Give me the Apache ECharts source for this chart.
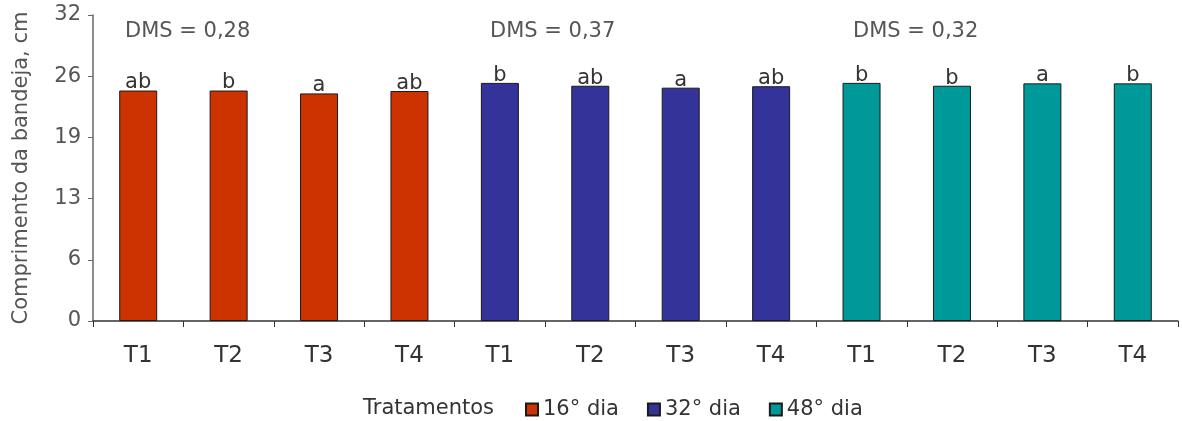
<!DOCTYPE html>
<html>
<head>
<meta charset="utf-8">
<script src="https://cdn.jsdelivr.net/npm/echarts@6/dist/echarts.min.js"></script>
<style>
  html, body { margin: 0; padding: 0; background: #fff; }
  #chart { width: 1182px; height: 421px; }
</style>
</head>
<body>
<div id="chart"></div>
<script>
// Treatments repeated for each sampling day
const treatments = ['T1', 'T2', 'T3', 'T4'];
const days = ['16° dia', '32° dia', '48° dia'];

// Tray length (cm) per treatment, one array per day
const values16 = [24.1, 24.1, 23.8, 24.05];
const values32 = [24.9, 24.6, 24.4, 24.55];
const values48 = [24.9, 24.6, 24.85, 24.85];

// Tukey letters per treatment, per day
const letters16 = ['ab', 'b', 'a', 'ab'];
const letters32 = ['b', 'ab', 'a', 'ab'];
const letters48 = ['b', 'b', 'a', 'b'];

// Minimum significant difference per day
const dmsValues = ['0,28', '0,37', '0,32'];

// Y axis tick labels (axis runs 0..32 in steps of 6.4)
const yTickLabels = ['0', '6', '13', '19', '26', '32'];

const dayColors = ['#cc3300', '#333399', '#009999'];
const FONT = 'DejaVu Sans';

const allValues = [values16, values32, values48];
const allLetters = [letters16, letters32, letters48];

// One category slot per (day, treatment); ids kept unique, labels show the treatment only
const categories = [];
days.forEach((d, di) => treatments.forEach(t => categories.push(t + '|' + di)));

const series = days.map((day, di) => {
  const data = categories.map((c, ci) => {
    const g = Math.floor(ci / treatments.length);
    return g === di ? allValues[di][ci % treatments.length] : null;
  });
  return {
    name: day,
    type: 'bar',
    data: data,
    barWidth: 38,
    barGap: '-100%',
    itemStyle: { color: dayColors[di], borderColor: '#1a1a1a', borderWidth: 1 },
    label: {
      show: true,
      position: 'top',
      distance: -3,
      fontFamily: FONT,
      fontSize: 21,
      color: '#333',
      formatter: p => allLetters[di][p.dataIndex % treatments.length]
    }
  };
});

const chart = echarts.init(document.getElementById('chart'), null, { renderer: 'canvas' });

chart.setOption({
  animation: false,
  backgroundColor: '#fff',
  color: dayColors,
  grid: { left: 93, right: 4, top: 15, bottom: 100, containLabel: false },
  xAxis: {
    type: 'category',
    data: categories,
    boundaryGap: true,
    axisLine: { lineStyle: { color: '#333', width: 1.5 } },
    axisTick: { show: true, length: 6, alignWithLabel: false, lineStyle: { color: '#333' } },
    axisLabel: {
      margin: 24,
      fontFamily: FONT,
      fontSize: 23,
      color: '#333',
      interval: 0,
      formatter: v => v.split('|')[0]
    },
    splitLine: { show: false }
  },
  yAxis: {
    type: 'value',
    min: 0,
    max: 32,
    interval: 6.4,
    name: 'Comprimento da bandeja, cm',
    nameLocation: 'middle',
    nameGap: 61,
    nameTextStyle: { fontFamily: FONT, fontSize: 21, color: '#555' },
    axisLine: { show: true, lineStyle: { color: '#666', width: 1.5 } },
    axisTick: { show: true, length: 5, lineStyle: { color: '#666' } },
    axisLabel: {
      margin: 12,
      fontFamily: FONT,
      fontSize: 21,
      color: '#555',
      formatter: (v, i) => yTickLabels[Math.round(v / 6.4)]
    },
    splitLine: { show: false }
  },
  legend: {
    data: days,
    left: 520,
    top: 394,
    icon: 'rect',
    itemWidth: 12,
    itemHeight: 12,
    itemGap: 28,
    textStyle: { fontFamily: FONT, fontSize: 21, color: '#333' }
  },
  graphic: [
    {
      type: 'text',
      left: 363,
      top: 398,
      style: { text: 'Tratamentos', font: '21px "DejaVu Sans"', fill: '#333' }
    }
  ].concat(dmsValues.map((d, i) => ({
    type: 'text',
    left: [125, 490, 853][i],
    top: 21,
    style: { text: 'DMS = ' + d, font: '21px "DejaVu Sans"', fill: '#555' }
  }))),
  series: series
});
</script>
</body>
</html>
